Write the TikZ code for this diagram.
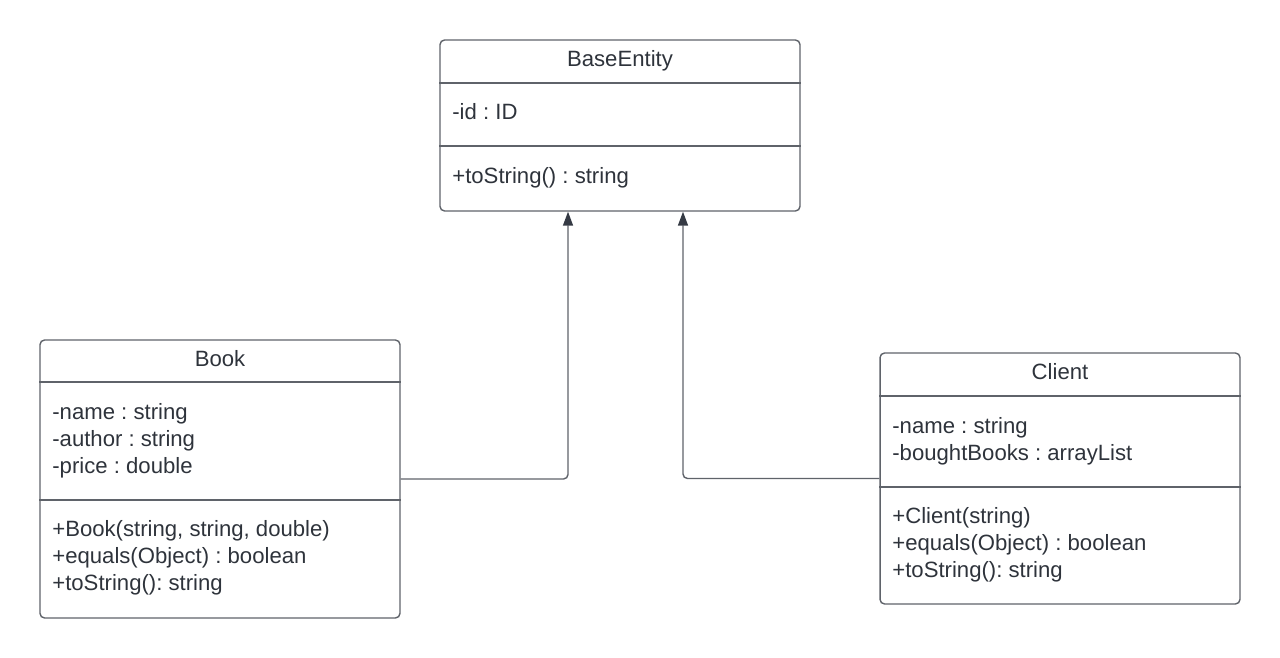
\documentclass[tikz,border=0pt]{standalone}
\usepackage{fontspec}
\setmainfont{Liberation Sans}
\usetikzlibrary{arrows.meta}
\frenchspacing

\definecolor{umltext}{HTML}{2E333B}
\definecolor{umlline}{HTML}{5F636A}
\definecolor{umlarrow}{HTML}{353A44}

\tikzset{
  classbox/.style={draw=umlline, line width=0.8pt, rounded corners=0.09cm,
    minimum width=7.2cm, inner sep=0pt},
  divider/.style={draw=umlline, line width=0.8pt},
  classname/.style={text=umltext, font=\fontsize{12.6}{15.3}\selectfont,
    inner sep=0pt, anchor=base},
  members/.style={text=umltext, font=\fontsize{12.6}{15.3}\selectfont,
    align=left, inner sep=0pt, anchor=base west},
  inherit/.style={draw=umlline, line width=0.8pt, rounded corners=0.09cm,
    -{Triangle[length=0.28cm,width=0.2cm,color=umlarrow]}}
}

\begin{document}
\begin{tikzpicture}[x=0.02cm, y=-0.02cm]
    \useasboundingbox (0,0) rectangle (1280,658);

    % Base class
    \node[classbox, minimum height=3.42cm] (base) at (620,125.5) {};
    \draw[divider] (base.west |- 0,83) -- (base.east |- 0,83);
    \draw[divider] (base.west |- 0,146) -- (base.east |- 0,146);
    \node[classname] (base-name) at (620,67) {BaseEntity};
    \node[members] (base-attr) at (452,120) {-id : ID};
    \node[members] (base-ops) at (452,184) {+toString() : string};

    % Book (members: last baseline given)
    \node[classbox, minimum height=5.56cm] (book) at (220,479) {};
    \draw[divider] (book.west |- 0,382) -- (book.east |- 0,382);
    \draw[divider] (book.west |- 0,500) -- (book.east |- 0,500);
    \node[classname] (book-name) at (220,366) {Book};
    \node[members] (book-attr) at (52,473)
        {-name : string\\-author : string\\-price : double};
    \node[members] (book-ops) at (52,590)
        {+Book(string, string, double)\\+equals(Object) : boolean\\+toString(): string};

    % Client
    \node[classbox, minimum height=5.02cm] (client) at (1060,478.5) {};
    \draw[divider] (client.west |- 0,396) -- (client.east |- 0,396);
    \draw[divider] (client.west |- 0,487) -- (client.east |- 0,487);
    \node[classname] (client-name) at (1060,379.5) {Client};
    \node[members] (client-attr) at (892,460)
        {-name : string\\-boughtBooks : arrayList};
    \node[members] (client-ops) at (892,577)
        {+Client(string)\\+equals(Object) : boolean\\+toString(): string};

    % Inheritance
    \draw[inherit] (book.east) -| ([xshift=-1.04cm]base.south);
    \draw[inherit] (client.west) -| ([xshift=1.26cm]base.south);
\end{tikzpicture}
\end{document}
